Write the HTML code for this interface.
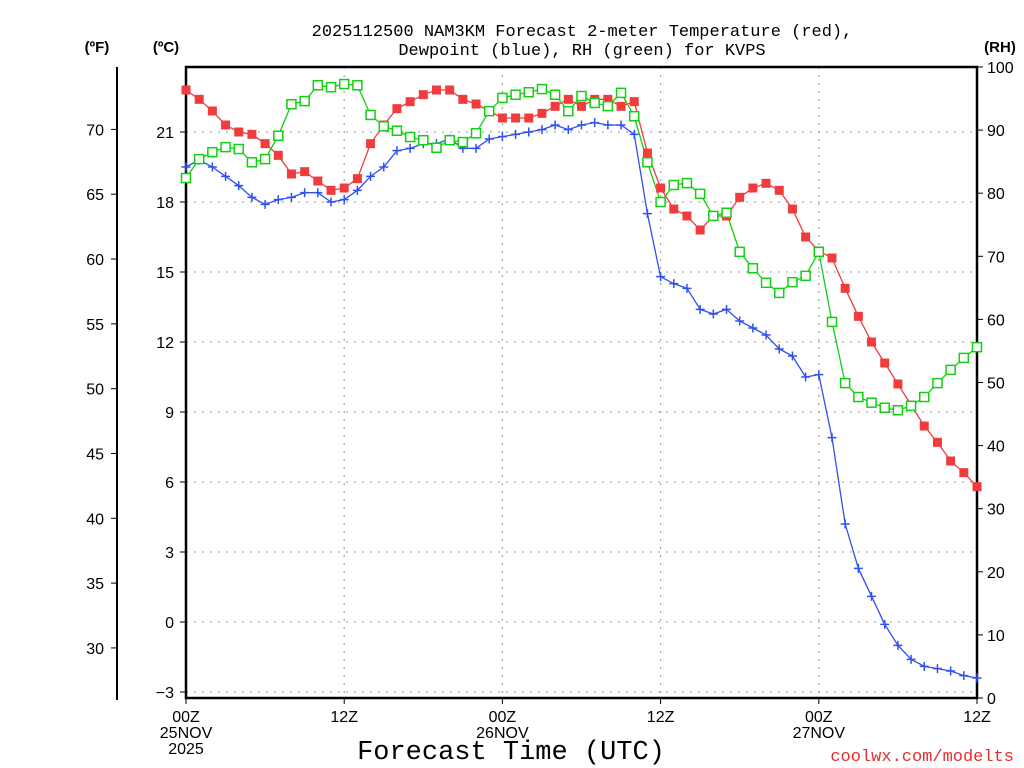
<!DOCTYPE html>
<html><head><meta charset="utf-8"><style>
html,body{margin:0;padding:0;background:#fff;}
svg{display:block;font-family:"Liberation Sans",sans-serif;}
</style></head><body>
<svg id="chart" width="1024" height="768" viewBox="0 0 1024 768" xmlns="http://www.w3.org/2000/svg">
<text x="582" y="36" font-size="17" font-family="Liberation Mono, monospace" text-anchor="middle">2025112500 NAM3KM Forecast 2-meter Temperature (red),</text>
<text x="582" y="55" font-size="17" font-family="Liberation Mono, monospace" text-anchor="middle">Dewpoint (blue), RH (green) for KVPS</text>
<text x="97" y="52" font-size="15" font-weight="bold" text-anchor="middle">(ºF)</text>
<text x="166" y="52" font-size="15" font-weight="bold" text-anchor="middle">(ºC)</text>
<text x="1000" y="52" font-size="15" font-weight="bold" text-anchor="middle">(RH)</text>
<text x="511" y="759" font-size="27" font-family="Liberation Mono, monospace" text-anchor="middle">Forecast Time (UTC)</text>
<text x="1014" y="761" font-size="17" font-family="Liberation Mono, monospace" fill="#e03030" text-anchor="end">coolwx.com/modelts</text>
<g id="grid"></g><g id="axes"></g><g id="series"></g>
</svg>
<script>
const hours=[];for(let i=0;i<=60;i++)hours.push(i);
const tempC=[22.8,22.4,21.9,21.3,21.0,20.9,20.5,20.0,19.2,19.3,18.9,18.5,18.6,19.0,20.5,21.3,22.0,22.3,22.6,22.8,22.8,22.4,22.2,21.9,21.6,21.6,21.6,21.8,22.1,22.4,22.1,22.4,22.4,22.1,22.3,20.1,18.6,17.7,17.4,16.8,17.4,17.4,18.2,18.6,18.8,18.5,17.7,16.5,15.9,15.6,14.3,13.1,12.0,11.1,10.2,9.3,8.4,7.7,6.9,6.4,5.8];
const dewC=[19.5,19.8,19.5,19.1,18.7,18.2,17.9,18.1,18.2,18.4,18.4,18.0,18.1,18.5,19.1,19.5,20.2,20.3,20.5,20.5,20.7,20.3,20.3,20.7,20.8,20.9,21.0,21.1,21.3,21.1,21.3,21.4,21.3,21.3,20.9,17.5,14.8,14.5,14.3,13.4,13.2,13.4,12.9,12.6,12.3,11.7,11.4,10.5,10.6,7.9,4.2,2.3,1.1,-0.1,-1.0,-1.6,-1.9,-2.0,-2.1,-2.3,-2.4];
const rh=[82.4,85.4,86.5,87.3,87.0,84.9,85.4,89.1,94.1,94.6,97.1,96.8,97.3,97.1,92.4,90.6,89.9,88.9,88.4,87.2,88.4,88.1,89.5,93.0,95.1,95.6,96.0,96.5,95.6,93.0,95.4,94.3,93.8,95.9,92.2,84.9,78.6,81.3,81.6,79.9,76.4,76.9,70.7,68.1,65.8,64.2,65.9,66.9,70.7,59.6,49.9,47.7,46.8,46.0,45.6,46.3,47.7,49.9,52.0,53.9,55.6];
const cTicks=[-3,0,3,6,9,12,15,18,21];
const fTicks=[30,35,40,45,50,55,60,65,70];
const rhTicks=[0,10,20,30,40,50,60,70,80,90,100];
const xTickHours=[0,12,24,36,48,60];
const xTickLabels=[["00Z","25NOV","2025"],["12Z"],["00Z","26NOV"],["12Z"],["00Z","27NOV"],["12Z"]];

const X0=186,X1=977,Y0=67,Y1=698;
const xS=h=>X0+(h-0)/60*(X1-X0);
const cY=c=>692-(c+3)*(70/3);
const fY=f=>cY((f-32)/1.8);
const rY=r=>Y1-r/100*(Y1-Y0);
const NS="http://www.w3.org/2000/svg";
function mk(tag,parent,attrs){const e=document.createElementNS(NS,tag);for(const k in attrs)e.setAttribute(k,attrs[k]);parent.appendChild(e);return e;}
const grid=document.getElementById('grid'),axes=document.getElementById('axes'),ser=document.getElementById('series');
cTicks.forEach(c=>{const y=cY(c);
 let l=mk('line',grid,{x1:X0,x2:X1,y1:y,y2:y,stroke:'#aaa','stroke-width':1.3,'stroke-dasharray':'2 6'});
 
 
 let t=mk('line',axes,{x1:X0-6,x2:X0,y1:y,y2:y,stroke:'#000','stroke-width':1});
 
 
 let tx=mk('text',axes,{x:X0-12,y:y+6,'font-size':16,'text-anchor':'end'});tx.textContent=c<0?'\u2212'+(-c):String(c);
 
 
});
xTickHours.forEach((h,i)=>{const x=xS(h);
 if(h>0&&h<60){let l=mk('line',grid,{x1:x,x2:x,y1:Y0,y2:Y1,stroke:'#aaa','stroke-width':1.3,'stroke-dasharray':'2 6'});
 
 }
 let t=mk('line',axes,{x1:x,x2:x,y1:Y1,y2:Y1+6,stroke:'#000','stroke-width':1});
 
 
 xTickLabels[i].forEach((s,j)=>{let tx=mk('text',axes,{x:x,y:722+j*16,'font-size':16,'text-anchor':'middle'});tx.textContent=s;
 
 });
});
fTicks.forEach(f=>{const y=fY(f);
 let t=mk('line',axes,{x1:111,x2:117,y1:y,y2:y,stroke:'#000','stroke-width':1});
 
 
 let tx=mk('text',axes,{x:104,y:y+6,'font-size':16,'text-anchor':'end'});tx.textContent=String(f);
 
 
});
rhTicks.forEach(r=>{const y=rY(r);
 let t=mk('line',axes,{x1:X1,x2:X1+6,y1:y,y2:y,stroke:'#000','stroke-width':1});
 
 
 let tx=mk('text',axes,{x:987,y:y+6,'font-size':16,'text-anchor':'start'});tx.textContent=String(r);
 
 
});
let fl=mk('line',axes,{x1:117,x2:117,y1:Y0,y2:Y1+2,stroke:'#000','stroke-width':2});


let fr=mk('rect',axes,{x:X0,y:Y0,width:X1-X0,height:Y1-Y0,fill:'none',stroke:'#000','stroke-width':2.5});



function drawLine(vals,yf,color,name){
 const pts=vals.map((v,i)=>xS(hours[i])+','+yf(v)).join(' ');
 let p=mk('polyline',ser,{points:pts,fill:'none',stroke:color,'stroke-width':1.3});
 
 
}
drawLine(tempC,cY,'#f03c3c','temperature');
drawLine(dewC,cY,'#3050f0','dewpoint');
drawLine(rh,rY,'#10d010','rh');
tempC.forEach((v,i)=>{const x=xS(hours[i]),y=cY(v);
 let r=mk('rect',ser,{x:x-4.5,y:y-4.5,width:9,height:9,fill:'#f03c3c'});
 
 });
dewC.forEach((v,i)=>{const x=xS(hours[i]),y=cY(v);
 let g=mk('path',ser,{d:`M${x-4.5},${y}H${x+4.5}M${x},${y-4.5}V${y+4.5}`,stroke:'#3050f0','stroke-width':1.5,fill:'none'});
 
 });
rh.forEach((v,i)=>{const x=xS(hours[i]),y=rY(v);
 let r=mk('rect',ser,{x:x-4.5,y:y-4.5,width:9,height:9,fill:'#fff',stroke:'#10d010','stroke-width':1.5});
 
 });
</script>
</body></html>
